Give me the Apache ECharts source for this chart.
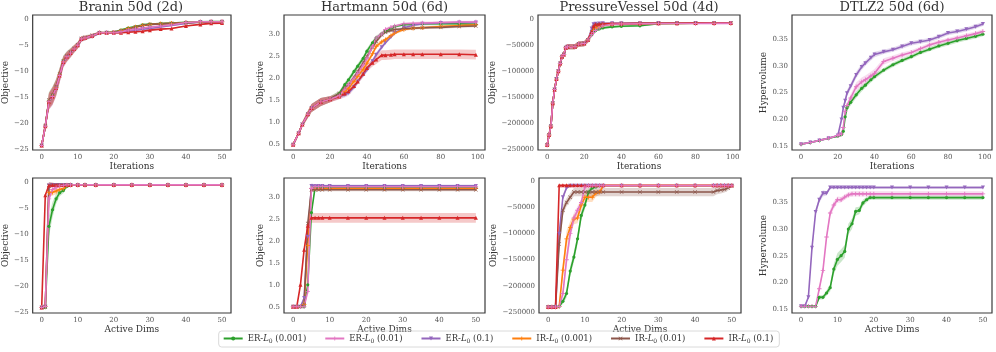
<!DOCTYPE html>
<html>
<head>
<meta charset="utf-8">
<script src="https://cdn.jsdelivr.net/npm/echarts@6/dist/echarts.min.js"></script>
<style>
html, body { margin: 0; padding: 0; background: #fff; }
#main { width: 996px; height: 352px; }
</style>
</head>
<body>
<div id="main"></div>
<script>
// legend names, same order as the reference legend
const seriesNames = ['ER-L0 (0.001)', 'ER-L0 (0.01)', 'ER-L0 (0.1)', 'IR-L0 (0.001)', 'IR-L0 (0.01)', 'IR-L0 (0.1)'];
const seriesColors = ['#2ca02c', '#e377c2', '#9467bd', '#ff7f0e', '#8c564b', '#d62728'];

// ---- Branin 50d (2d), iterations ----
const braninIterX = [0,1,2,3,4,5,6,7,8,9,10,11,12,14,16,18,20,22,24,26,28,30,33,36,40,44,47,50];
const braninIterG = [-24.2,-20.5,-15.6,-14.6,-13.0,-10.6,-8.0,-7.1,-6.4,-5.7,-5.0,-3.8,-3.6,-3.2,-2.6,-2.6,-2.5,-2.1,-1.7,-1.4,-1.1,-0.95,-0.85,-0.75,-0.6,-0.5,-0.45,-0.45];
const braninIterPk = [-24.2,-20.5,-15.8,-14.8,-13.2,-10.8,-8.2,-7.2,-6.5,-5.7,-5.0,-3.8,-3.6,-3.2,-2.6,-2.6,-2.6,-2.4,-2.1,-1.9,-1.7,-1.5,-1.3,-1.1,-0.65,-0.5,-0.48,-0.48];
const braninIterPu = [-24.2,-20.6,-15.9,-14.9,-13.3,-10.9,-8.3,-7.3,-6.6,-5.8,-5.1,-3.9,-3.7,-3.3,-2.7,-2.6,-2.6,-2.5,-2.3,-2.1,-1.9,-1.8,-1.5,-1.2,-0.8,-0.55,-0.5,-0.5];
const braninIterO = [-24.2,-20.5,-15.7,-14.7,-13.1,-10.7,-8.1,-7.2,-6.5,-5.7,-5.0,-3.8,-3.6,-3.2,-2.6,-2.6,-2.5,-2.2,-1.8,-1.5,-1.2,-1.0,-0.9,-0.8,-0.65,-0.55,-0.5,-0.5];
const braninIterB = [-24.2,-20.4,-15.5,-14.5,-12.9,-10.5,-8.0,-7.0,-6.3,-5.6,-4.9,-3.7,-3.5,-3.1,-2.6,-2.6,-2.5,-2.2,-1.9,-1.5,-1.2,-1.0,-0.9,-0.8,-0.7,-0.6,-0.55,-0.55];
const braninIterR = [-24.2,-20.5,-15.8,-14.8,-13.2,-10.8,-8.2,-7.2,-6.5,-5.7,-5.0,-3.8,-3.6,-3.2,-2.6,-2.6,-2.6,-2.6,-2.5,-2.4,-2.3,-2.1,-1.9,-1.8,-1.3,-1.0,-0.8,-0.75];
const braninIterErr = [0.2,0.8,1.5,1.6,1.5,1.3,1.0,0.9,0.8,0.7,0.6,0.5,0.4,0.3,0.25,0.2,0.2,0.2,0.2,0.2,0.2,0.15,0.15,0.15,0.12,0.1,0.1,0.1];

// ---- Hartmann 50d (6d), iterations ----
const hartIterX = [0,3,5,8,10,15,20,25,28,30,33,35,38,40,43,45,48,50,53,55,60,65,70,80,90,99];
const hartIterG = [0.49,0.75,0.95,1.18,1.32,1.46,1.52,1.65,1.85,1.96,2.15,2.27,2.45,2.61,2.80,2.91,3.00,3.06,3.12,3.17,3.21,3.22,3.23,3.23,3.23,3.22];
const hartIterPk = [0.49,0.75,0.95,1.18,1.32,1.46,1.52,1.60,1.75,1.85,2.00,2.11,2.30,2.45,2.72,2.91,3.00,3.10,3.15,3.18,3.23,3.24,3.25,3.26,3.27,3.27];
const hartIterPu = [0.49,0.75,0.95,1.18,1.32,1.46,1.52,1.58,1.62,1.66,1.80,1.92,2.08,2.19,2.38,2.53,2.70,2.80,2.93,3.02,3.14,3.20,3.23,3.25,3.26,3.26];
const hartIterO = [0.49,0.75,0.95,1.18,1.32,1.46,1.52,1.60,1.70,1.77,1.93,2.04,2.20,2.34,2.55,2.72,2.82,2.87,2.96,3.02,3.10,3.13,3.14,3.17,3.19,3.21];
const hartIterB = [0.49,0.75,0.95,1.18,1.32,1.46,1.52,1.65,1.78,1.85,2.02,2.15,2.35,2.49,2.70,2.83,2.98,3.04,3.08,3.10,3.12,3.13,3.14,3.15,3.17,3.18];
const hartIterR = [0.49,0.75,0.95,1.18,1.32,1.46,1.52,1.58,1.65,1.70,1.82,1.92,2.10,2.23,2.35,2.42,2.52,2.52,2.53,2.54,2.54,2.54,2.54,2.54,2.54,2.53];
const hartIterErr = [0.01,0.04,0.06,0.08,0.09,0.09,0.07,0.06,0.06,0.06,0.06,0.06,0.06,0.06,0.06,0.05,0.05,0.04,0.04,0.03,0.03,0.03,0.03,0.03,0.03,0.03];
const hartIterErrR = [0.01,0.04,0.06,0.08,0.09,0.09,0.07,0.06,0.06,0.06,0.06,0.06,0.07,0.08,0.09,0.1,0.11,0.11,0.11,0.11,0.11,0.11,0.11,0.11,0.11,0.11];

// ---- PressureVessel 50d (4d), iterations ----
const pvIterX = [0,1,2,3,4,5,6,7,8,9,10,11,15,17,20,22,24,25,26,28,30,35,40,50,60,70,80,90,99];
const pvIterG = [-241000,-222000,-205000,-161000,-135000,-115000,-100000,-85000,-72000,-68000,-55000,-53000,-53000,-48000,-47000,-40000,-30000,-25000,-22000,-19000,-17000,-15000,-14000,-13000,-9000,-8500,-8200,-8000,-8000];
const pvIterPk = [-241000,-222000,-205000,-161000,-135000,-115000,-100000,-85000,-72000,-68000,-55000,-53000,-53000,-48000,-47000,-40000,-30000,-26000,-22000,-17000,-13000,-10000,-9500,-9000,-8800,-8600,-8500,-8400,-8300];
const pvIterPu = [-241000,-222000,-205000,-161000,-135000,-115000,-100000,-85000,-72000,-68000,-55000,-53000,-53000,-48000,-47000,-40000,-18000,-10000,-9000,-8500,-8000,-8000,-8000,-8000,-7800,-7600,-7500,-7500,-7500];
const pvIterO = [-241000,-222000,-205000,-161000,-135000,-115000,-100000,-85000,-72000,-68000,-55000,-53000,-53000,-48000,-47000,-40000,-28000,-22000,-18000,-14000,-12000,-10000,-9500,-9000,-8600,-8300,-8100,-8000,-7900];
const pvIterB = [-241000,-222000,-205000,-161000,-135000,-115000,-100000,-85000,-72000,-68000,-55000,-53000,-53000,-48000,-47000,-40000,-25000,-16000,-12000,-11000,-10000,-9500,-9000,-8500,-8200,-8000,-8000,-7900,-7800];
const pvIterR = [-241000,-222000,-205000,-161000,-135000,-115000,-100000,-85000,-72000,-68000,-55000,-53000,-53000,-48000,-47000,-40000,-25000,-14000,-10000,-9500,-9000,-8800,-8600,-8300,-8000,-8000,-7800,-7700,-7600];
const pvIterErr = [1000,4000,6000,8000,8000,8000,7000,7000,6000,6000,5000,5000,5000,5000,5000,5000,5000,4000,3000,2500,2000,2000,2000,2000,1500,1500,1500,1500,1500];

// ---- DTLZ2 50d (6d), iterations ----
const dtlzIterX = [0,5,10,15,20,21,22,23,24,25,27,30,33,35,38,40,45,50,55,60,65,70,75,80,85,90,95,99];
const dtlzIterG = [0.154,0.157,0.161,0.165,0.169,0.171,0.172,0.178,0.205,0.222,0.232,0.246,0.258,0.264,0.274,0.280,0.292,0.302,0.310,0.317,0.325,0.331,0.337,0.342,0.347,0.351,0.355,0.359];
const dtlzIterPk = [0.154,0.157,0.161,0.165,0.170,0.172,0.173,0.185,0.215,0.226,0.240,0.261,0.270,0.274,0.281,0.286,0.308,0.314,0.320,0.325,0.332,0.339,0.344,0.348,0.352,0.356,0.360,0.364];
const dtlzIterPu = [0.154,0.157,0.161,0.165,0.170,0.172,0.200,0.222,0.235,0.249,0.262,0.283,0.298,0.305,0.315,0.321,0.326,0.330,0.336,0.342,0.345,0.348,0.354,0.361,0.364,0.368,0.373,0.378];
const dtlzIterErr = [0.001,0.001,0.001,0.001,0.002,0.002,0.004,0.005,0.006,0.006,0.006,0.006,0.006,0.005,0.005,0.005,0.004,0.004,0.004,0.004,0.004,0.004,0.004,0.004,0.004,0.004,0.004,0.004];
const dtlzIterErrPk = [0.001,0.001,0.001,0.001,0.002,0.002,0.004,0.005,0.006,0.006,0.007,0.008,0.008,0.008,0.008,0.008,0.006,0.005,0.005,0.004,0.004,0.004,0.004,0.004,0.004,0.004,0.004,0.004];

// ---- Branin, active dims ----
const braninDimX = [0,1,2,3,4,5,6,7,8,10,12,15,20,25,30,35,40,45,50];
const braninDimG = [-24.2,-24.2,-8.5,-5.3,-3.2,-2.0,-1.6,-0.8,-0.55,-0.5,-0.5,-0.5,-0.5,-0.5,-0.5,-0.5,-0.5,-0.5,-0.5];
const braninDimPk = [-24.2,-24.0,-3.2,-1.4,-1.0,-0.7,-0.6,-0.5,-0.5,-0.5,-0.5,-0.5,-0.5,-0.5,-0.5,-0.5,-0.5,-0.5,-0.5];
const braninDimPu = [-24.2,-24.0,-0.6,-0.5,-0.5,-0.5,-0.5,-0.5,-0.5,-0.5,-0.5,-0.5,-0.5,-0.5,-0.5,-0.5,-0.5,-0.5,-0.5];
const braninDimO = [-24.2,-24.0,-2.0,-1.9,-1.7,-1.4,-1.2,-0.6,-0.5,-0.5,-0.5,-0.5,-0.5,-0.5,-0.5,-0.5,-0.5,-0.5,-0.5];
const braninDimB = [-24.2,-24.1,-0.6,-0.5,-0.5,-0.5,-0.5,-0.5,-0.5,-0.5,-0.5,-0.5,-0.5,-0.5,-0.5,-0.5,-0.5,-0.5,-0.5];
const braninDimR = [-24.2,-2.5,-0.6,-0.5,-0.5,-0.5,-0.5,-0.5,-0.5,-0.5,-0.5,-0.5,-0.5,-0.5,-0.5,-0.5,-0.5,-0.5,-0.5];
const braninDimErrG = [0.2,0.3,2.0,1.5,1.0,0.7,0.5,0.3,0.1,0.05,0.05,0.05,0.05,0.05,0.05,0.05,0.05,0.05,0.05];
const braninDimErrO = [0.2,0.3,0.8,0.7,0.6,0.5,0.4,0.2,0.1,0.05,0.05,0.05,0.05,0.05,0.05,0.05,0.05,0.05,0.05];
const braninDimErr = [0.2,0.3,0.6,0.4,0.3,0.2,0.15,0.1,0.1,0.05,0.05,0.05,0.05,0.05,0.05,0.05,0.05,0.05,0.05];

// ---- Hartmann, active dims ----
const hartDimX = [0,1,2,3,4,5,6,7,8,10,15,20,25,30,35,40,45,50];
const hartDimG = [0.5,0.5,0.5,0.5,1.0,2.65,3.22,3.22,3.22,3.22,3.22,3.22,3.22,3.22,3.22,3.22,3.22,3.22];
const hartDimPk = [0.5,0.5,0.5,0.5,0.85,3.2,3.24,3.24,3.24,3.24,3.24,3.24,3.24,3.24,3.24,3.24,3.24,3.24];
const hartDimPu = [0.5,0.5,0.5,0.7,2.1,3.26,3.26,3.26,3.26,3.26,3.26,3.26,3.26,3.26,3.26,3.26,3.26,3.26];
const hartDimO = [0.5,0.5,0.5,0.55,1.9,3.2,3.2,3.2,3.2,3.2,3.2,3.2,3.2,3.2,3.2,3.2,3.2,3.2];
const hartDimB = [0.5,0.5,0.5,0.55,2.4,3.17,3.17,3.17,3.17,3.17,3.17,3.17,3.17,3.17,3.17,3.17,3.17,3.17];
const hartDimR = [0.5,0.5,1.0,1.8,2.35,2.53,2.53,2.53,2.53,2.53,2.53,2.53,2.53,2.53,2.53,2.53,2.53,2.53];
const hartDimErr = [0.01,0.01,0.01,0.01,0.05,0.06,0.03,0.03,0.03,0.03,0.03,0.03,0.03,0.03,0.03,0.03,0.03,0.03];
const hartDimErrR = [0.01,0.01,0.05,0.08,0.1,0.11,0.11,0.11,0.11,0.11,0.11,0.11,0.11,0.11,0.11,0.11,0.11,0.11];

// ---- PressureVessel, active dims ----
const pvDimX = [0,1,2,3,4,5,6,7,8,9,10,11,12,13,14,15,20,25,30,35,40,45,46,47,48,49,50];
const pvDimG = [-241000,-241000,-241000,-240000,-230000,-215000,-172000,-145000,-110000,-65000,-45000,-20000,-12000,-10000,-8000,-8000,-8000,-8000,-8000,-8000,-8000,-8000,-8000,-8000,-8000,-8000,-8000];
const pvDimPk = [-241000,-241000,-241000,-240000,-215000,-150000,-100000,-70000,-55000,-40000,-10000,-8000,-8000,-8000,-8000,-8000,-8000,-8000,-8000,-8000,-8000,-8000,-8000,-8000,-8000,-8000,-8000];
const pvDimPu = [-241000,-241000,-241000,-100000,-30000,-12000,-8000,-8000,-8000,-8000,-8000,-8000,-8000,-8000,-8000,-8000,-8000,-8000,-8000,-8000,-8000,-8000,-8000,-8000,-8000,-8000,-8000];
const pvDimO = [-241000,-241000,-241000,-240000,-170000,-110000,-88000,-72000,-70000,-45000,-30000,-30000,-30000,-22000,-20000,-8000,-8000,-8000,-8000,-8000,-8000,-8000,-8000,-8000,-8000,-8000,-8000];
const pvDimB = [-241000,-241000,-241000,-120000,-55000,-40000,-30000,-20000,-20000,-20000,-20000,-20000,-20000,-20000,-20000,-20000,-20000,-20000,-20000,-20000,-20000,-20000,-17000,-16000,-15000,-12000,-8000];
const pvDimR = [-241000,-241000,-241000,-7000,-7000,-7000,-7000,-7000,-7000,-7000,-7000,-7000,-7000,-7000,-7000,-7000,-7000,-7000,-7000,-7000,-7000,-7000,-7000,-7000,-7000,-7000,-7000];
const pvDimErrG = [1000,1000,1000,2000,5000,8000,10000,10000,10000,9000,8000,6000,4000,3000,2000,1500,1500,1500,1500,1500,1500,1500,1500,1500,1500,1500,1500];
const pvDimErrPk = [1000,1000,1000,2000,10000,15000,12000,10000,8000,6000,3000,1500,1500,1500,1500,1500,1500,1500,1500,1500,1500,1500,1500,1500,1500,1500,1500];
const pvDimErrPu = [1000,1000,1000,10000,6000,3000,1500,1500,1500,1500,1500,1500,1500,1500,1500,1500,1500,1500,1500,1500,1500,1500,1500,1500,1500,1500,1500];
const pvDimErrO = [1000,1000,1000,2000,15000,15000,12000,10000,10000,10000,9000,9000,9000,7000,5000,2000,1500,1500,1500,1500,1500,1500,1500,1500,1500,1500,1500];
const pvDimErrB = [1000,1000,1000,15000,10000,8000,8000,8000,8000,8000,8000,8000,8000,8000,8000,8000,8000,8000,8000,8000,8000,8000,7000,7000,6000,5000,2000];
const pvDimErrR = [1000,1000,1000,1500,1500,1500,1500,1500,1500,1500,1500,1500,1500,1500,1500,1500,1500,1500,1500,1500,1500,1500,1500,1500,1500,1500,1500];

// ---- DTLZ2, active dims ----
const dtlzDimX = [0,1,2,3,4,5,6,7,8,9,10,11,12,13,14,15,16,17,18,19,20,25,30,35,40,45,50];
const dtlzDimG = [0.155,0.155,0.155,0.155,0.155,0.172,0.172,0.180,0.190,0.225,0.243,0.250,0.258,0.300,0.310,0.333,0.335,0.349,0.355,0.359,0.359,0.359,0.359,0.359,0.359,0.359,0.359];
const dtlzDimPk = [0.155,0.155,0.155,0.155,0.155,0.188,0.222,0.285,0.330,0.345,0.355,0.355,0.360,0.364,0.366,0.366,0.366,0.366,0.366,0.366,0.366,0.366,0.366,0.366,0.366,0.366,0.366];
const dtlzDimPu = [0.155,0.155,0.172,0.265,0.332,0.355,0.367,0.367,0.378,0.378,0.378,0.378,0.378,0.378,0.378,0.378,0.378,0.378,0.378,0.378,0.378,0.378,0.378,0.378,0.378,0.378,0.378];
const dtlzDimErrG = [0.001,0.001,0.001,0.001,0.001,0.004,0.004,0.005,0.007,0.01,0.012,0.012,0.012,0.01,0.01,0.008,0.007,0.006,0.005,0.004,0.004,0.004,0.004,0.004,0.004,0.004,0.004];
const dtlzDimErrPk = [0.001,0.001,0.001,0.001,0.001,0.004,0.005,0.006,0.007,0.007,0.006,0.005,0.005,0.005,0.005,0.005,0.005,0.005,0.005,0.005,0.005,0.005,0.005,0.005,0.005,0.005,0.005];
const dtlzDimErrPu = [0.001,0.001,0.002,0.006,0.006,0.006,0.006,0.004,0.003,0.003,0.003,0.003,0.003,0.003,0.003,0.003,0.003,0.003,0.003,0.003,0.003,0.003,0.003,0.003,0.003,0.003,0.003];

// tick labels
const ticksIter50 = [0, 10, 20, 30, 40, 50];
const ticksIter100 = [0, 20, 40, 60, 80, 100];
const ticksBranin = [-25, -20, -15, -10, -5, 0];
const ticksHart = [0.5, 1.0, 1.5, 2.0, 2.5, 3.0];
const ticksPv = [-250000, -200000, -150000, -100000, -50000, 0];
const ticksDtlz = [0.15, 0.20, 0.25, 0.30, 0.35];

// panel table: [green, pink, purple, orange, brown, red]
const panels = [
  { title: 'Branin 50d (2d)', box: [31, 15, 200, 135], xs: braninIterX,
    ys: [braninIterG, braninIterPk, braninIterPu, braninIterO, braninIterB, braninIterR],
    es: [braninIterErr, braninIterErr, braninIterErr, braninIterErr, braninIterErr, braninIterErr],
    x: [-2.5, 52.5, ticksIter50], y: [-25.06, 0.8, ticksBranin, 0], xName: 'Iterations', yName: 'Objective', gap: 20 },
  { title: 'Hartmann 50d (6d)', box: [284, 15, 201, 135], xs: hartIterX,
    ys: [hartIterG, hartIterPk, hartIterPu, hartIterO, hartIterB, hartIterR],
    es: [hartIterErr, hartIterErr, hartIterErr, hartIterErr, hartIterErr, hartIterErrR],
    x: [-4.95, 103.95, ticksIter100], y: [0.37, 3.43, ticksHart, 1], xName: 'Iterations', yName: 'Objective', gap: 14 },
  { title: 'PressureVessel 50d (4d)', box: [538, 15, 202, 135], xs: pvIterX,
    ys: [pvIterG, pvIterPk, pvIterPu, pvIterO, pvIterB, pvIterR],
    es: [pvIterErr, pvIterErr, pvIterErr, pvIterErr, pvIterErr, pvIterErr],
    x: [-4.95, 103.95, ticksIter100], y: [-250600, 7650, ticksPv, 0], xName: 'Iterations', yName: 'Objective', gap: 36 },
  { title: 'DTLZ2 50d (6d)', box: [792, 15, 200, 135], xs: dtlzIterX,
    ys: [dtlzIterG, dtlzIterPk, dtlzIterPu, null, null, null],
    es: [dtlzIterErr, dtlzIterErrPk, dtlzIterErr, null, null, null],
    x: [-4.95, 103.95, ticksIter100], y: [0.1431, 0.3947, ticksDtlz, 2], xName: 'Iterations', yName: 'Hypervolume', gap: 19 },
  { title: '', box: [32, 178, 199, 135], xs: braninDimX,
    ys: [braninDimG, braninDimPk, braninDimPu, braninDimO, braninDimB, braninDimR],
    es: [braninDimErrG, braninDimErr, braninDimErr, braninDimErrO, braninDimErr, braninDimErr],
    x: [-2.5, 52.5, ticksIter50], y: [-25.25, 0.83, ticksBranin, 0], xName: 'Active Dims', yName: 'Objective', gap: 21 },
  { title: '', box: [284, 178, 201, 135], xs: hartDimX,
    ys: [hartDimG, hartDimPk, hartDimPu, hartDimO, hartDimB, hartDimR],
    es: [hartDimErr, hartDimErr, hartDimErr, hartDimErr, hartDimErr, hartDimErrR],
    x: [-2.5, 52.5, ticksIter50], y: [0.356, 3.44, ticksHart, 1], xName: 'Active Dims', yName: 'Objective', gap: 14 },
  { title: '', box: [539, 178, 202, 135], xs: pvDimX,
    ys: [pvDimG, pvDimPk, pvDimPu, pvDimO, pvDimB, pvDimR],
    es: [pvDimErrG, pvDimErrPk, pvDimErrPu, pvDimErrO, pvDimErrB, pvDimErrR],
    x: [-2.5, 52.5, ticksIter50], y: [-252500, 7000, ticksPv, 0], xName: 'Active Dims', yName: 'Objective', gap: 37 },
  { title: '', box: [792, 178, 200, 135], xs: dtlzDimX,
    ys: [dtlzDimG, dtlzDimPk, dtlzDimPu, null, null, null],
    es: [dtlzDimErrG, dtlzDimErrPk, dtlzDimErrPu, null, null, null],
    x: [-2.5, 52.5, ticksIter50], y: [0.1425, 0.3958, ticksDtlz, 2], xName: 'Active Dims', yName: 'Hypervolume', gap: 19 }
];

const FONT = 'DejaVu Serif';
const PLUS = 'path://M4,0H6V4H10V6H6V10H4V6H0V4H4Z';
const CROSS = 'path://M0,1L1,0L5,4L9,0L10,1L6,5L10,9L9,10L5,6L1,10L0,9L4,5Z';
const symbols = [['circle', 3.2, 0], [PLUS, 4.5, 0], ['triangle', 4, 180], [PLUS, 4.5, 0], [CROSS, 4, 0], ['triangle', 4, 0]];
// plotting order, last one ends on top
const drawOrder = [0, 2, 3, 4, 5, 1];

function fmt(v, dec) {
  return (v < 0 ? '\u2212' : '') + Math.abs(v).toFixed(dec);
}
function hexA(hex, a) {
  const n = parseInt(hex.slice(1), 16);
  return 'rgba(' + (n >> 16) + ',' + ((n >> 8) & 255) + ',' + (n & 255) + ',' + a + ')';
}

const grid = [], xAxis = [], yAxis = [], title = [], series = [];

panels.forEach((p, i) => {
  const [l, t, w, h] = p.box;
  grid.push({ left: l, top: t, width: w, height: h, show: true, borderColor: '#3a3a3a', borderWidth: 1.2, backgroundColor: '#fff' });
  if (p.title) {
    title.push({ text: p.title, left: l + w / 2, top: 1, textAlign: 'center', padding: 0,
      textStyle: { fontFamily: FONT, fontSize: 13, fontWeight: 'normal', color: '#333' } });
  }
  xAxis.push({
    type: 'value', gridIndex: i, min: p.x[0], max: p.x[1],
    axisLine: { show: false }, axisTick: { show: false }, splitLine: { show: false },
    axisLabel: { customValues: p.x[2], formatter: v => fmt(v, 0), fontFamily: FONT, fontSize: 7, color: '#555', margin: 4 },
    name: p.xName, nameLocation: 'middle', nameGap: 9,
    nameTextStyle: { fontFamily: FONT, fontSize: 9, color: '#333' }
  });
  yAxis.push({
    type: 'value', gridIndex: i, min: p.y[0], max: p.y[1],
    axisLine: { show: false }, axisTick: { show: false }, splitLine: { show: false },
    axisLabel: { customValues: p.y[2], formatter: v => fmt(v, p.y[3]), fontFamily: FONT, fontSize: 7, color: '#555', margin: 4 },
    name: p.yName, nameLocation: 'middle', nameRotate: 90, nameGap: p.gap,
    nameTextStyle: { fontFamily: FONT, fontSize: 9, color: '#333' }
  });

  drawOrder.forEach(k => {
    const ys = p.ys[k];
    if (!ys) return;
    const es = p.es[k];
    const col = seriesColors[k];
    // shaded band (mean +/- err): one polygon through the axis scales
    const band = p.xs.map((x, j) => [x, ys[j] - es[j], ys[j] + es[j]]);
    series.push({
      type: 'custom', xAxisIndex: i, yAxisIndex: i, silent: true, z: 1, clip: true,
      data: band, encode: { x: 0, y: [1, 2] },
      renderItem: (params, api) => {
        if (params.dataIndex !== 0) return null;
        const upper = band.map(d => api.coord([d[0], d[2]]));
        const lower = band.map(d => api.coord([d[0], d[1]])).reverse();
        return { type: 'polygon', shape: { points: upper.concat(lower) }, style: { fill: hexA(col, 0.25) } };
      }
    });
    series.push({
      name: seriesNames[k], type: 'line', xAxisIndex: i, yAxisIndex: i,
      data: p.xs.map((x, j) => [x, ys[j]]),
      color: col, symbol: symbols[k][0], symbolSize: symbols[k][1], symbolRotate: symbols[k][2],
      showSymbol: true, itemStyle: { color: col },
      lineStyle: { color: col, width: 1.6 }, z: 3
    });
  });
});

const chart = echarts.init(document.getElementById('main'), null, { renderer: 'canvas' });
chart.setOption({
  animation: false,
  backgroundColor: '#fff',
  title: title,
  grid: grid,
  xAxis: xAxis,
  yAxis: yAxis,
  legend: {
    data: seriesNames, left: 'center', top: 331,
    itemWidth: 19, itemHeight: 5, itemGap: 18,
    borderColor: '#d0d0d0', borderWidth: 0.8, borderRadius: 3, padding: [3, 6, 3, 4],
    formatter: name => name.replace('L0', '{i|L}{s|0}'),
    textStyle: {
      fontFamily: FONT, fontSize: 8.5, color: '#333',
      rich: {
        i: { fontFamily: FONT, fontSize: 8.5, fontStyle: 'italic', color: '#333' },
        s: { fontFamily: FONT, fontSize: 6, color: '#333', padding: [5, 0, 0, 0] }
      }
    }
  },
  series: series
});
</script>
</body>
</html>
